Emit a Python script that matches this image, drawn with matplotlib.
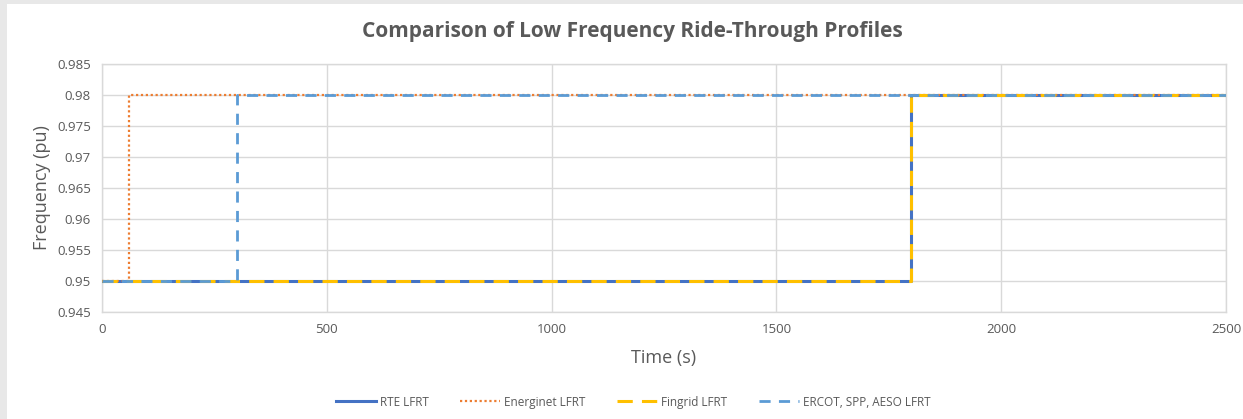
import matplotlib
matplotlib.use("Agg")
import matplotlib.pyplot as plt
from matplotlib.patches import Rectangle

# Step profiles: time breakpoints (s) and frequency levels (pu)
rte_t = [0, 1800, 1800, 2500]
rte_f = [0.95, 0.95, 0.98, 0.98]

energinet_t = [0, 60, 60, 2500]
energinet_f = [0.95, 0.95, 0.98, 0.98]

fingrid_t = [0, 1800, 1800, 2500]
fingrid_f = [0.95, 0.95, 0.98, 0.98]

ercot_t = [0, 300, 300, 2500]
ercot_f = [0.95, 0.95, 0.98, 0.98]

x_ticks = [0, 500, 1000, 1500, 2000, 2500]
y_ticks = [0.945, 0.95, 0.955, 0.96, 0.965, 0.97, 0.975, 0.98, 0.985]
y_tick_labels = ["0.945", "0.95", "0.955", "0.96", "0.965", "0.97", "0.975", "0.98", "0.985"]

plt.rcParams["font.family"] = ["Open Sans", "DejaVu Sans"]
text_color = "#595959"
grid_color = "#D9D9D9"

fig = plt.figure(figsize=(12.43, 4.19), dpi=100, facecolor="#E8E8E8")
fig.patches.append(Rectangle((7 / 1243, 0), 1, 1 - 4 / 419, transform=fig.transFigure,
                             facecolor="white", edgecolor="none", zorder=-10))

ax = fig.add_axes([102 / 1243, 1 - 312 / 419, (1226 - 102) / 1243, (312 - 64) / 419])
ax.set_facecolor("white")

ax.plot(rte_t, rte_f, color="#4472C4", lw=2.2, label="RTE LFRT", zorder=3)
ax.plot(energinet_t, energinet_f, color="#ED7D31", lw=1.6, linestyle=(0, (1, 1.2)),
        label="Energinet LFRT", zorder=4)
ax.plot(fingrid_t, fingrid_f, color="#FFC000", lw=2.2, linestyle=(0, (5, 3)),
        label="Fingrid LFRT", zorder=5)
ax.plot(ercot_t, ercot_f, color="#5B9BD5", lw=2.0, linestyle=(0, (4, 3)),
        label="ERCOT, SPP, AESO LFRT", zorder=6)

ax.set_xlim(0, 2500)
ax.set_ylim(0.945, 0.985)
ax.set_xticks(x_ticks)
ax.set_yticks(y_ticks)
ax.set_yticklabels(y_tick_labels)
ax.tick_params(axis="both", length=0, labelsize=9.5, colors=text_color, pad=8)
ax.grid(True, color=grid_color, lw=1)
ax.set_axisbelow(True)
for s in ax.spines.values():
    s.set_color(grid_color)
    s.set_linewidth(1)

ax.set_xlabel("Time (s)", fontsize=13, color=text_color, labelpad=9)
ax.set_ylabel("Frequency (pu)", fontsize=13, color=text_color, labelpad=4)

fig.text(632 / 1243, 1 - 31 / 419, "Comparison of Low Frequency Ride-Through Profiles",
         ha="center", va="center", fontsize=15, fontweight="bold", color=text_color)

leg = fig.legend(loc="center", bbox_to_anchor=(633 / 1243, 1 - 402 / 419), ncol=4, frameon=False,
                 fontsize=8.5, handlelength=3.4, columnspacing=2.65, handletextpad=0.35)
for t in leg.get_texts():
    t.set_color(text_color)

fig.savefig("out.png", dpi=100, facecolor=fig.get_facecolor())
